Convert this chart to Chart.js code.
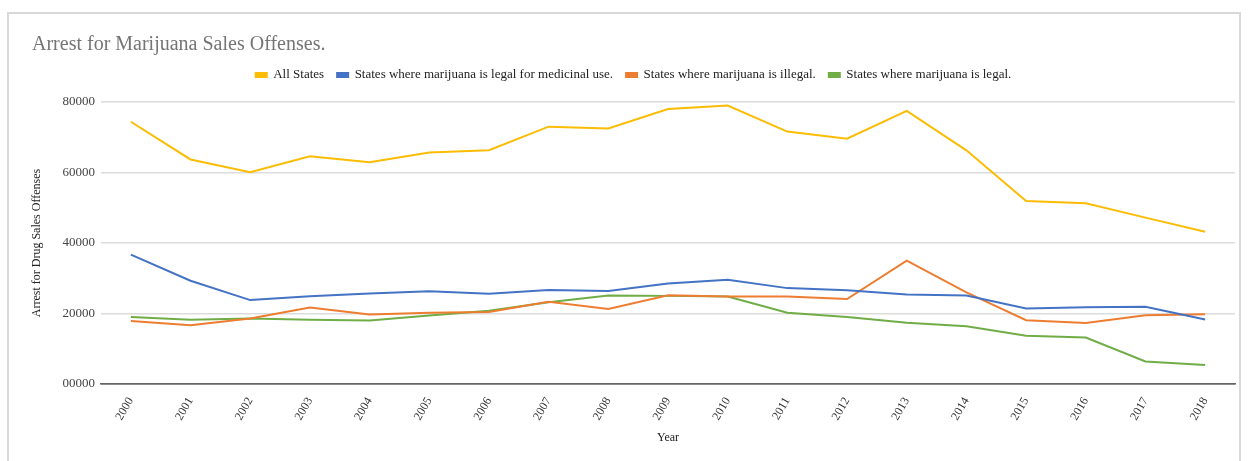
<!DOCTYPE html>
<html>
<head>
<meta charset="utf-8">
<script src="https://cdn.jsdelivr.net/npm/chart.js@4"></script>
<style>
  html, body { margin: 0; padding: 0; background: #fff; }
  #frame {
    position: absolute; left: 7px; top: 12px; width: 1234px; height: 470px;
    border: 2px solid #d9d9d9; box-sizing: border-box;
  }
  #chart { position: absolute; left: 0; top: 0; }
</style>
</head>
<body>
<div id="frame"></div>
<canvas id="chart" width="1248" height="461"></canvas>
<script>
// --- data ---
const years = ['2000', '2001', '2002', '2003', '2004', '2005', '2006', '2007', '2008', '2009',
  '2010', '2011', '2012', '2013', '2014', '2015', '2016', '2017', '2018'];

const allStates = [74400, 63700, 60100, 64600, 62900, 65700, 66300, 73000, 72500, 78000,
  79000, 71600, 69600, 77500, 66300, 51900, 51300, 47200, 43200];
const medicinalStates = [36700, 29300, 23800, 24900, 25700, 26300, 25600, 26700, 26400, 28500,
  29600, 27200, 26600, 25400, 25100, 21400, 21800, 21900, 18300];
const illegalStates = [17900, 16700, 18600, 21700, 19700, 20200, 20400, 23300, 21300, 25200,
  24800, 24800, 24100, 35000, 26000, 18100, 17300, 19500, 19800];
const legalStates = [19000, 18200, 18600, 18200, 18000, 19400, 20800, 23200, 25100, 25000,
  24800, 20200, 19000, 17400, 16400, 13700, 13200, 6400, 5400];

const yTickValues = [0, 20000, 40000, 60000, 80000];
const yTickLabels = ['00000', '20000', '40000', '60000', '80000'];

const serif = "'Liberation Serif', 'DejaVu Serif', serif";
Chart.defaults.font.family = serif;

function lineSet(label, data, color) {
  return {
    label: label,
    data: data,
    borderColor: color,
    backgroundColor: color,
    borderWidth: 2,
    pointRadius: 0,
    pointHoverRadius: 0,
    tension: 0,
    fill: false,
    xAxisID: 'x',
    yAxisID: 'y'
  };
}

const ctx = document.getElementById('chart').getContext('2d');
new Chart(ctx, {
  type: 'line',
  data: {
    labels: years,
    datasets: [
      lineSet('All States', allStates, '#fbbc04'),
      lineSet('States where marijuana is legal for medicinal use.', medicinalStates, '#4472c4'),
      lineSet('States where marijuana is illegal.', illegalStates, '#ed7d31'),
      lineSet('States where marijuana is legal.', legalStates, '#70ad47')
    ]
  },
  options: {
    responsive: false,
    animation: false,
    layout: { padding: { left: 32, right: 13, top: 25, bottom: 12 } },
    plugins: {
      title: {
        display: true,
        text: 'Arrest for Marijuana Sales Offenses.',
        align: 'start',
        color: '#757575',
        font: { size: 20, weight: 'normal' },
        padding: { top: 8, bottom: -1.5 }
      },
      legend: {
        display: true,
        labels: {
          color: '#222',
          font: { size: 13 },
          boxWidth: 11,
          boxHeight: 4,
          padding: 13
        }
      },
      tooltip: { enabled: false }
    },
    scales: {
      x: {
        offset: true,
        grid: { display: false },
        border: { display: true, color: '#666', width: 1.5 },
        ticks: {
          color: '#333',
          font: { size: 12 },
          minRotation: 60,
          maxRotation: 60,
          autoSkip: false
        },
        title: { display: true, text: 'Year', color: '#222', font: { size: 12 } },
        afterFit: (scale) => { scale.height = 65; }
      },
      y: {
        min: 0,
        max: 80000,
        afterBuildTicks: (scale) => { scale.ticks = yTickValues.map(v => ({ value: v })); },
        grid: {
          color: (c) => c.tick && c.tick.value === 0 ? '#666' : '#dcdcdc',
          lineWidth: 1.5,
          drawTicks: false
        },
        border: { display: false },
        ticks: {
          color: '#444',
          font: { size: 13 },
          padding: 6,
          callback: (v, i) => yTickLabels[i]
        },
        title: {
          display: true,
          text: 'Arrest for Drug Sales Offenses',
          color: '#222',
          font: { size: 12 },
          padding: { top: -2, bottom: 0 }
        },
        afterFit: (scale) => { scale.width = 69; }
      },
      // empty strip above the plot, only keeps the gap under the legend
      gap: {
        type: 'category',
        position: 'top',
        offset: true,
        grid: { display: false, drawTicks: false },
        border: { display: false },
        ticks: { display: false },
        afterFit: (scale) => { scale.height = 10.5; }
      }
    }
  }
});
</script>
</body>
</html>
